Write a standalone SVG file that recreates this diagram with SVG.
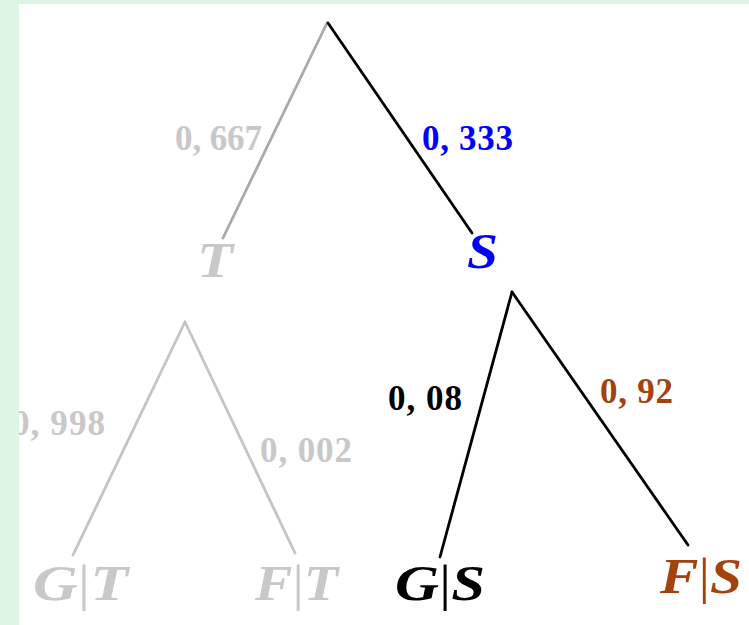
<svg xmlns="http://www.w3.org/2000/svg" width="749" height="625" viewBox="0 0 749 625">
  <style>
    .num { font-family: "Liberation Serif", "Times New Roman", serif; font-weight: bold; font-size: 35px; }
    .node { font-family: "Liberation Serif", "Times New Roman", serif; font-weight: bold; font-style: italic; font-size: 50px; }
    .bar { font-style: normal; font-weight: normal; }
    .edge { fill: none; stroke-width: 2.8; stroke-linecap: round; }
    .faded { fill: #c8c8c8; }
    .black { fill: #000000; }
    .blue { fill: #0000ff; }
    .brown { fill: #a3420d; }
  </style>
  <defs>
    <clipPath id="page">
      <rect x="19" y="4" width="730" height="621"/>
    </clipPath>
  </defs>
  <rect x="0" y="0" width="749" height="625" fill="#ddf5e4"/>
  <rect x="19" y="4" width="730" height="621" fill="#ffffff"/>
  <g clip-path="url(#page)">
    <g id="connectors">
      <line class="edge" x1="327" y1="23" x2="223" y2="238" stroke="#aaaaaa"/>
      <line class="edge" x1="328" y1="23" x2="472" y2="233" stroke="#000000"/>
      <line class="edge" x1="185" y1="322" x2="73" y2="555" stroke="#c4c4c4"/>
      <line class="edge" x1="185" y1="322" x2="295" y2="553" stroke="#c4c4c4"/>
      <line class="edge" x1="512" y1="292" x2="440" y2="557" stroke="#000000"/>
      <line class="edge" x1="512" y1="292" x2="688" y2="545" stroke="#000000"/>
    </g>
    <g id="label-0667"><text class="num faded" x="175" y="150" textLength="87" lengthAdjust="spacing">0, 667</text></g>
    <g id="label-0333"><text class="num blue" x="422" y="150" textLength="91" lengthAdjust="spacing">0, 333</text></g>
    <g id="node-T"><text class="node faded" x="197" y="277" textLength="36" lengthAdjust="spacingAndGlyphs">T</text></g>
    <g id="node-S"><text class="node blue" x="467" y="268" textLength="31" lengthAdjust="spacingAndGlyphs">S</text></g>
    <g id="label-0998"><text class="num faded" x="12" y="435" textLength="93" lengthAdjust="spacing">0, 998</text></g>
    <g id="label-0002"><text class="num faded" x="260" y="462" textLength="92" lengthAdjust="spacing">0, 002</text></g>
    <g id="label-008"><text class="num black" x="388" y="410" textLength="74" lengthAdjust="spacing">0, 08</text></g>
    <g id="label-092"><text class="num brown" x="600" y="403" textLength="73" lengthAdjust="spacing">0, 92</text></g>
    <g id="node-GT"><text class="node faded" x="33" y="600" textLength="95" lengthAdjust="spacingAndGlyphs">G<tspan class="bar">|</tspan>T</text></g>
    <g id="node-FT"><text class="node faded" x="255" y="600" textLength="83" lengthAdjust="spacingAndGlyphs">F<tspan class="bar">|</tspan>T</text></g>
    <g id="node-GS"><text class="node black" x="395" y="600" textLength="90" lengthAdjust="spacingAndGlyphs">G<tspan class="bar">|</tspan>S</text></g>
    <g id="node-FS"><text class="node brown" x="660" y="593" textLength="82" lengthAdjust="spacingAndGlyphs">F<tspan class="bar">|</tspan>S</text></g>
  </g>
</svg>
